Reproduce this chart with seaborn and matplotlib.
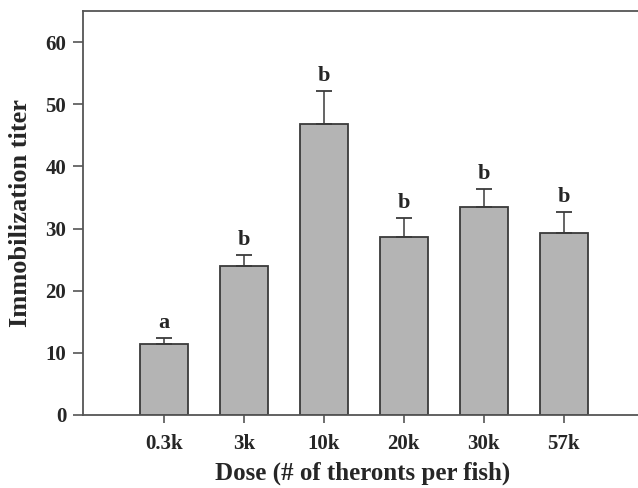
import matplotlib
matplotlib.use("Agg")
import matplotlib.pyplot as plt
import seaborn as sns
import pandas as pd
import numpy as np

# values
doses = ["0.3k", "3k", "10k", "20k", "30k", "57k"]
titer = [11.4, 24.0, 46.8, 28.6, 33.4, 29.3]
sem = [1.0, 1.8, 5.4, 3.1, 2.9, 3.3]
letters = ["a", "b", "b", "b", "b", "b"]

df = pd.DataFrame({"Dose": doses, "Titer": titer})

sns.set_style("white")
plt.rcParams["font.family"] = ["Liberation Serif", "DejaVu Serif"]
plt.rcParams["font.weight"] = "bold"

fig = plt.figure(figsize=(6.38, 4.88), dpi=100)
ax = fig.add_axes([83 / 638, 1 - 415 / 488, 560 / 638, 404 / 488])

edge = "#3a3a3a"
sns.barplot(data=df, x="Dose", y="Titer", color="#b4b4b4", edgecolor=edge,
            linewidth=1.3, width=0.6, saturation=1, ax=ax)

x = np.arange(len(doses))
ax.errorbar(x, titer, yerr=[np.zeros(len(sem)), sem], fmt="none",
            ecolor=edge, elinewidth=1.1, capsize=6, capthick=1.3, zorder=1)

for xi, t, s, lab in zip(x, titer, sem, letters):
    ax.text(xi, t + s + 0.8, lab, ha="center", va="bottom",
            fontsize=16, fontweight="bold")

ax.set_xlim(-1.01, 5.99)
ax.set_ylim(0, 65)
ax.set_yticks(range(0, 61, 10))

for side in ["top", "right", "left", "bottom"]:
    ax.spines[side].set_color("#555555")
    ax.spines[side].set_linewidth(1.3)

ax.tick_params(axis="y", direction="out", length=7, width=1.2, color="#555555",
               labelsize=15, pad=5, left=True)
ax.tick_params(axis="x", direction="out", length=6, width=1.2, color="#555555",
               labelsize=15, pad=8, bottom=True)
for lab in ax.get_xticklabels() + ax.get_yticklabels():
    lab.set_fontweight("bold")

ax.set_xlabel("Dose (# of theronts per fish)", fontsize=18, fontweight="bold", labelpad=5)
ax.set_ylabel("Immobilization titer", fontsize=19, fontweight="bold", labelpad=10)

fig.savefig("out.png", dpi=100)
